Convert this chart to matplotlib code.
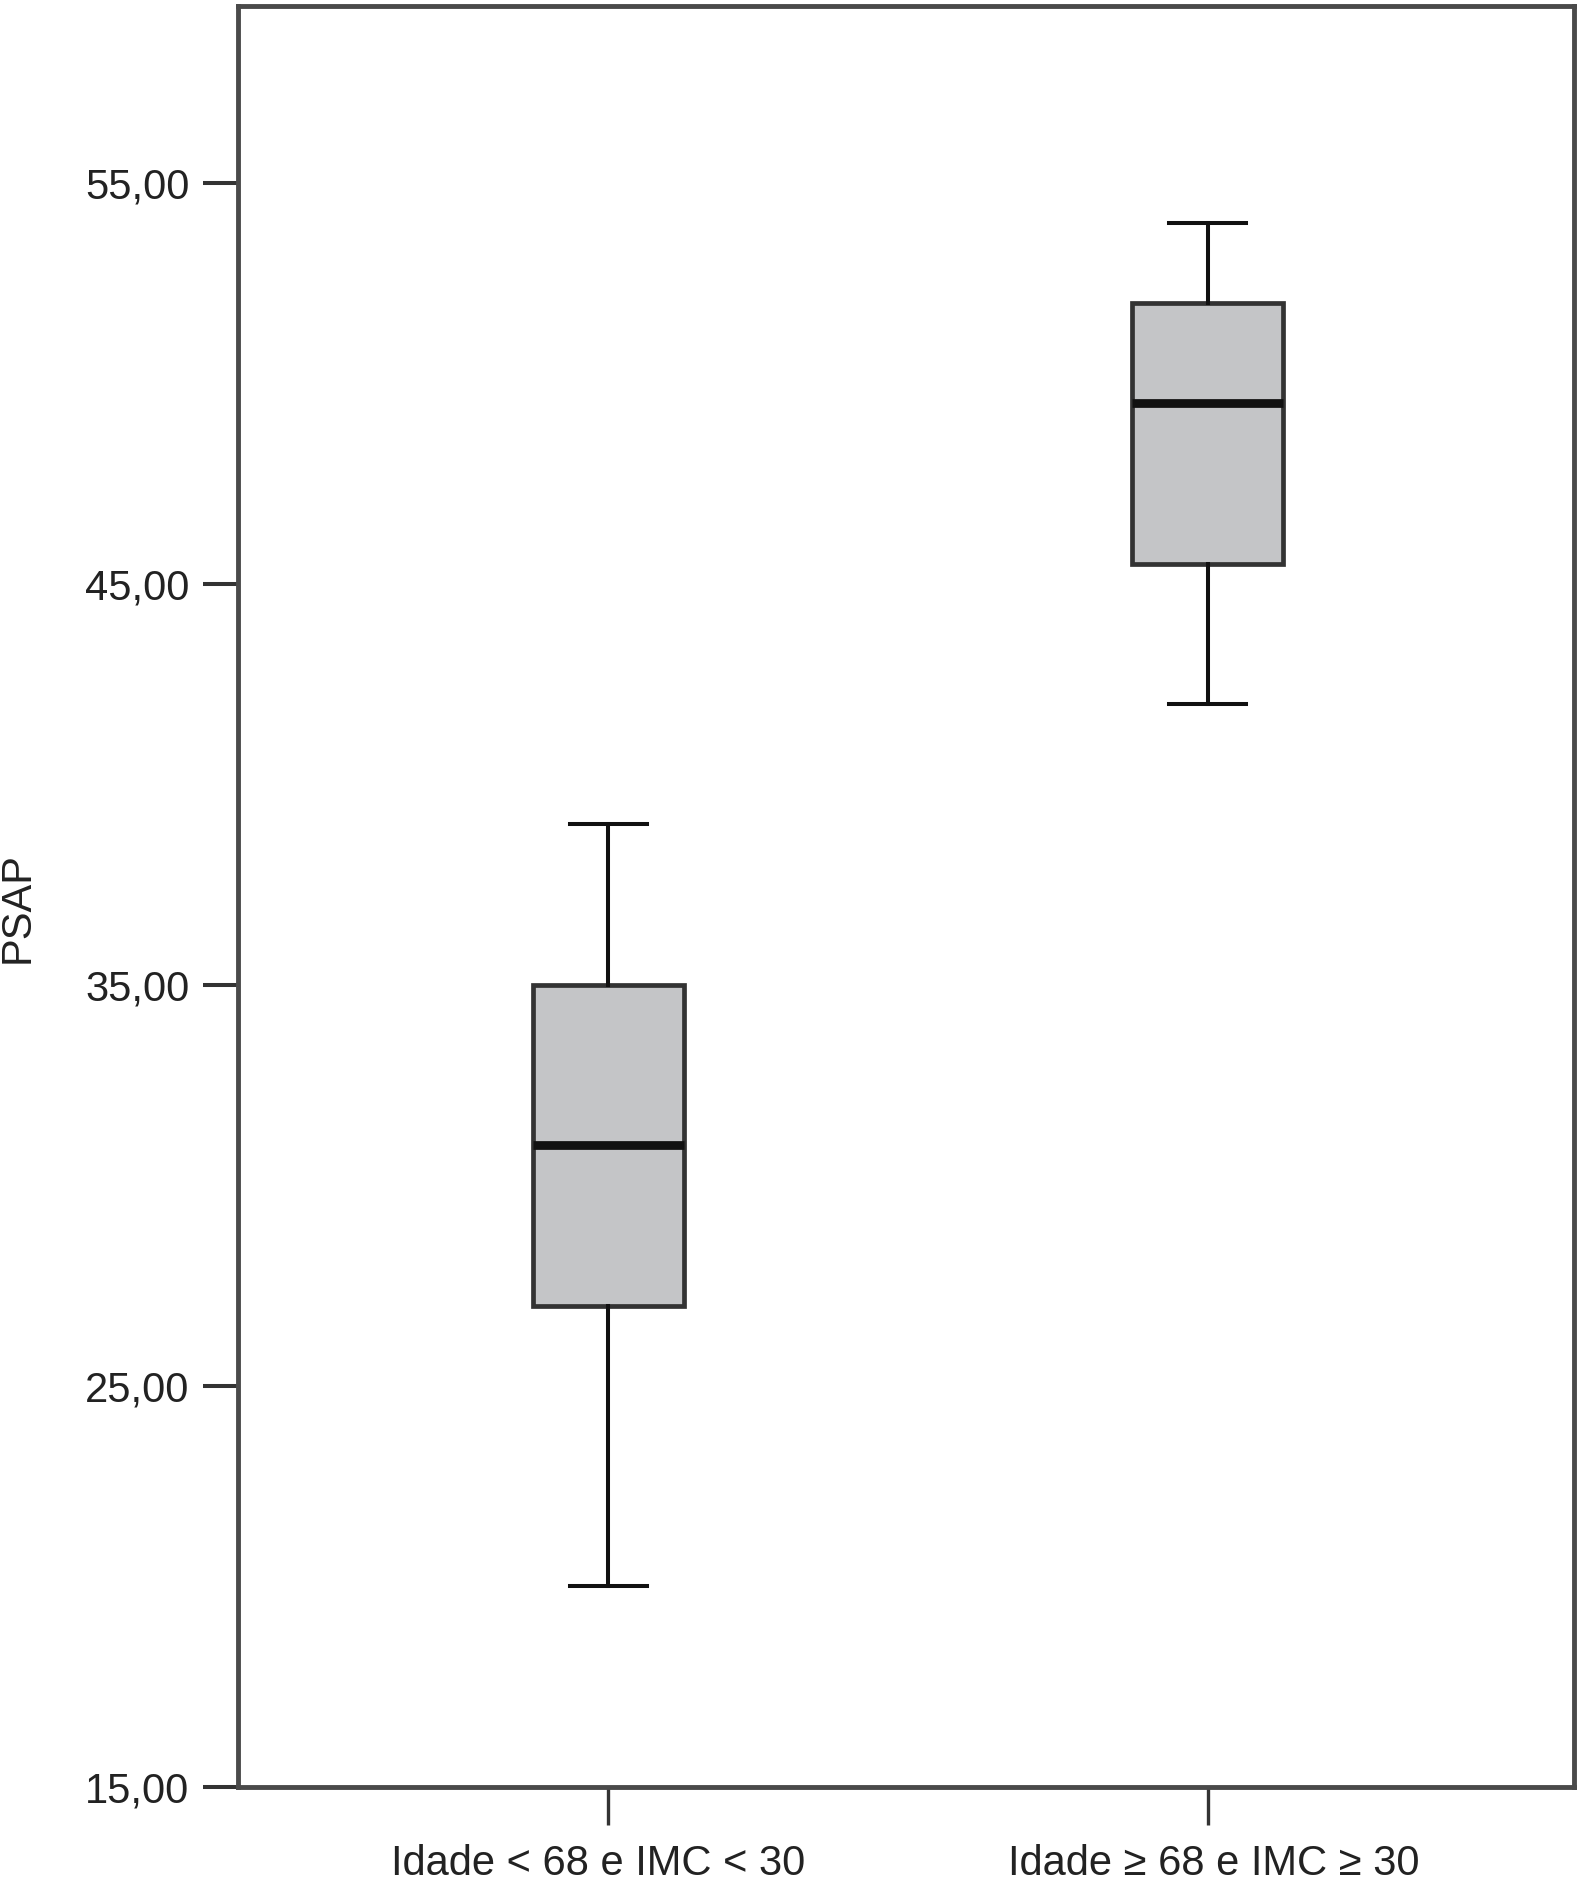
import matplotlib
matplotlib.use("Agg")
import matplotlib.pyplot as plt
import matplotlib.transforms as mtransforms

plt.rcParams["font.family"] = ["Liberation Sans", "DejaVu Sans"]

# Box statistics
groups = ["Idade < 68 e IMC < 30", "Idade \u2265 68 e IMC \u2265 30"]
whisker_low = [20.0, 42.0]
q1 = [27.0, 45.5]
median = [31.0, 49.5]
q3 = [35.0, 52.0]
whisker_high = [39.0, 54.0]
yticks = [15, 25, 35, 45, 55]

stats = []
for i, name in enumerate(groups):
    stats.append({
        "label": name,
        "whislo": whisker_low[i],
        "q1": q1[i],
        "med": median[i],
        "q3": q3[i],
        "whishi": whisker_high[i],
        "fliers": [],
    })

fig = plt.figure(figsize=(15.81, 18.86), dpi=100)
ax = fig.add_axes([0.1505, 0.0525, 0.845, 0.9443])

edge = "#333333"
ax.bxp(
    stats,
    positions=[1, 2],
    widths=0.252,
    capwidths=0.129,
    patch_artist=True,
    showfliers=False,
    boxprops=dict(facecolor="#c4c5c7", edgecolor=edge, linewidth=3.4),
    medianprops=dict(color="#111111", linewidth=6.3, solid_capstyle="butt"),
    whiskerprops=dict(color="#111111", linewidth=2.9),
    capprops=dict(color="#111111", linewidth=2.9),
)

ax.set_xlim(0.382, 2.611)
ax.set_ylim(15, 59.4)
ax.set_yticks(yticks)
ax.set_yticklabels([f"{v:.2f}".replace(".", ",") for v in yticks])
ax.set_xticks([1, 2])
ax.set_xticklabels(groups)

for s in ax.spines.values():
    s.set_linewidth(3.5)
    s.set_color("#4a4a4a")

ax.tick_params(axis="y", direction="out", length=25, width=2.9, color="#333333",
               labelsize=30, pad=10, labelcolor="#222222")
ax.tick_params(axis="x", direction="out", length=27, width=2.4, color="#333333",
               labelsize=30, pad=14, labelcolor="#222222")

# small horizontal nudges of the category labels, as in the original
for lbl, dx in zip(ax.get_xticklabels(), [-10, 6]):
    lbl.set_transform(lbl.get_transform() + mtransforms.ScaledTranslation(dx / 100, 0, fig.dpi_scale_trans))

ax.set_ylabel("PSAP", fontsize=30, color="#222222")
ax.yaxis.set_label_coords(-0.150, 0.494)

fig.savefig("out.png", dpi=100, facecolor="white")
